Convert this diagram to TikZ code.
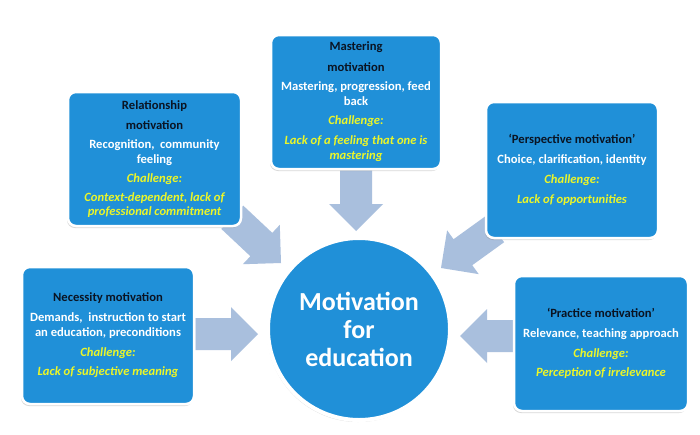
\documentclass[tikz,border=0pt]{standalone}
\usepackage{fontspec}
\setmainfont{Carlito}
\usetikzlibrary{shadows,calc,backgrounds}
\definecolor{boxblue}{RGB}{32,144,216}
\definecolor{arrowcol}{RGB}{169,191,221}
\definecolor{chalyellow}{RGB}{236,246,40}
\definecolor{titleink}{RGB}{10,20,35}
\newcommand{\ttl}[1]{\textcolor{titleink}{#1}}
\newcommand{\chl}[1]{\textcolor{chalyellow}{\itshape #1}}
\newcommand{\blkarrow}[2]{%
  \coordinate (ah) at ($(#2)!27pt!(#1)$);
  \fill[arrowcol] ($(#1)!16pt!90:(#2)$) -- ($(ah)!16pt!90:(#2)$) -- ($(ah)!27pt!90:(#2)$) -- (#2)
     -- ($(ah)!27pt!-90:(#2)$) -- ($(ah)!16pt!-90:(#2)$) -- ($(#1)!16pt!-90:(#2)$) -- cycle;}
\begin{document}
\begin{tikzpicture}[x=1pt,y=-1pt,
  motbox/.style={rectangle, rounded corners=8pt, fill=boxblue, draw=white, line width=2.5pt,
    drop shadow={shadow xshift=-1pt, shadow yshift=-2pt, opacity=0.3},
    text=white, font=\fontsize{12.6}{14.8}\selectfont\bfseries, align=center, inner sep=2pt},
  hub/.style={circle, fill=boxblue, draw=white, line width=4pt, minimum size=182pt,
    drop shadow={shadow xshift=-1pt, shadow yshift=-2pt, opacity=0.3},
    text=white, font=\fontsize{26}{28}\selectfont\bfseries, align=center, inner sep=0pt}]
\useasboundingbox (0,0) rectangle (700,434);

\node[motbox, minimum width=170pt, minimum height=134pt] (mas) at (356,102)
  {\ttl{Mastering}\\[6pt]\ttl{motivation}\\[4pt]Mastering, progression, feed\\back\\[4pt]\chl{Challenge:}\\[6pt]\chl{Lack of a feeling that one is}\\\chl{mastering}};
\node[motbox, minimum width=173pt, minimum height=134pt] (rel) at (154.5,159)
  {\ttl{Relationship}\\[6pt]\ttl{motivation}\\[4pt]Recognition,\ \ community\\feeling\\[4pt]\chl{Challenge:}\\[4pt]\chl{Context-dependent, lack of}\\\chl{professional commitment}};
\node[motbox, minimum width=172pt, minimum height=137pt] (nec) at (108,335.5)
  {\ttl{Necessity motivation}\\[5pt]Demands,\ \ instruction to start\\an education, preconditions\\[5pt]\chl{Challenge:}\\[5pt]\chl{Lack of subjective meaning}};
\node[motbox, minimum width=172pt, minimum height=136pt] (per) at (572,170)
  {\ttl{‘Perspective motivation’}\\[5pt]Choice, clarification, identity\\[5pt]\chl{Challenge:}\\[5pt]\chl{Lack of opportunities}};
\node[motbox, minimum width=174pt, minimum height=135pt] (pra) at (601,343.5)
  {\ttl{‘Practice motivation’}\\[5pt]Relevance, teaching approach\\[5pt]\chl{Challenge:}\\[5pt]\chl{Perception of irrelevance}};
\node[hub] (ctr) at (359,329) {Motivation\\for\\education};

\coordinate (ttip) at (356,231);
\coordinate (lttip) at (281,263);
\coordinate (rttip) at (441,268);
\coordinate (ltip) at (258,334);
\coordinate (rtip) at (460,336);

\begin{scope}[on background layer]
  \fill[white] (0,0) rectangle (700,434);
  \blkarrow{mas.south}{ttip}
  \blkarrow{$(rel.south east)+(-10,-10)$}{lttip}
  \blkarrow{$(per.south west)+(10,-10)$}{rttip}
  \blkarrow{nec.east |- ltip}{ltip}
  \blkarrow{pra.west |- rtip}{rtip}
\end{scope}
\end{tikzpicture}
\end{document}
